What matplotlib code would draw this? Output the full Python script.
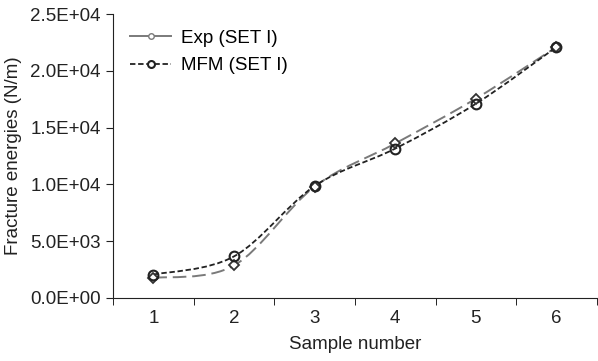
"""
Fracture energies per sample: experiment vs MFM (SET I)
"""
import numpy as np
from matplotlib import pyplot as plt
from matplotlib.path import Path
from matplotlib.patches import PathPatch
from matplotlib.ticker import FixedLocator

samples = [1, 2, 3, 4, 5, 6]
exp_set1 = [1750, 2850, 9800, 13600, 17550, 22100]
mfm_set1 = [2050, 3650, 9850, 13150, 17100, 22100]
y_ticks = [0, 5000, 10000, 15000, 20000, 25000]
y_labels = ['0.0E+00', '5.0E+03', '1.0E+04', '1.5E+04', '2.0E+04', '2.5E+04']


def smooth_path(x, y):
    """
    Bezier path through the points (like a smoothed spreadsheet line)
    """
    x = np.asarray(x, float)
    y = np.asarray(y, float)
    verts = [(x[0], y[0])]
    codes = [Path.MOVETO]
    n = len(x)
    for i in range(n - 1):
        p0 = (x[max(i - 1, 0)], y[max(i - 1, 0)])
        p1 = (x[i], y[i])
        p2 = (x[i + 1], y[i + 1])
        p3 = (x[min(i + 2, n - 1)], y[min(i + 2, n - 1)])
        c1 = (p1[0] + (p2[0] - p0[0]) / 6, p1[1] + (p2[1] - p0[1]) / 6)
        c2 = (p2[0] - (p3[0] - p1[0]) / 6, p2[1] - (p3[1] - p1[1]) / 6)
        verts += [c1, c2, p2]
        codes += [Path.CURVE4] * 3
    return Path(verts, codes)


def main():
    plt.rcParams['font.family'] = ['Liberation Sans', 'DejaVu Sans']
    fig = plt.figure(figsize=(5.98, 3.61), dpi=100)
    ax = fig.add_axes([0.189, 0.175, 0.809, 0.786])
    fs = 13.5

    # Smoothed lines
    ax.add_patch(PathPatch(smooth_path(samples, exp_set1), fill=False,
                           edgecolor='#7a7a7a', lw=1.4, linestyle=(0, (7, 3))))
    ax.add_patch(PathPatch(smooth_path(samples, mfm_set1), fill=False,
                           edgecolor='#222222', lw=1.3, linestyle=(0, (3, 1.5))))

    # Markers and legend handles
    ax.plot(samples, exp_set1, linestyle='none', marker='D', ms=5,
            mfc='white', mec='#333333', mew=1.3)
    ax.plot(samples, mfm_set1, linestyle='none', marker='o', ms=7,
            mfc='none', mec='#222222', mew=1.5)
    h_exp, = ax.plot([], [], color='#7a7a7a', lw=1.4, marker='o', ms=4,
                     mfc='white', mec='#7a7a7a', label='Exp (SET I)')
    h_mfm, = ax.plot([], [], color='#222222', lw=1.3, linestyle=(0, (3, 1.5)),
                     marker='o', ms=5, mfc='white', mec='#222222', mew=1.5,
                     label='MFM (SET I)')
    ax.legend(handles=[h_exp, h_mfm], loc='upper left', frameon=False,
              fontsize=fs, bbox_to_anchor=(0.0, 1.005), handlelength=2.2,
              labelspacing=0.55, handletextpad=0.5)

    # Axes styling
    ax.set_xlim(0.5, 6.5)
    ax.set_ylim(0, 25000)
    ax.set_xticks(samples)
    ax.xaxis.set_minor_locator(FixedLocator(np.arange(0.5, 7, 1)))
    ax.tick_params(axis='x', which='major', length=0, pad=9)
    ax.tick_params(axis='x', which='minor', length=5, direction='out')
    ax.set_yticks(y_ticks)
    ax.set_yticklabels(y_labels)
    ax.tick_params(axis='y', length=5, direction='out', pad=4)
    ax.tick_params(labelsize=fs, colors='#222222')
    for side in ['top', 'right']:
        ax.spines[side].set_visible(False)
    for side in ['left', 'bottom']:
        ax.spines[side].set_color('#222222')
    ax.set_xlabel('Sample number', fontsize=fs, color='#222222', labelpad=6)
    ax.set_ylabel('Fracture energies (N/m)', fontsize=fs, color='#222222',
                  labelpad=6)

    fig.savefig('out.png', dpi=100)


if __name__ == '__main__':
    main()
